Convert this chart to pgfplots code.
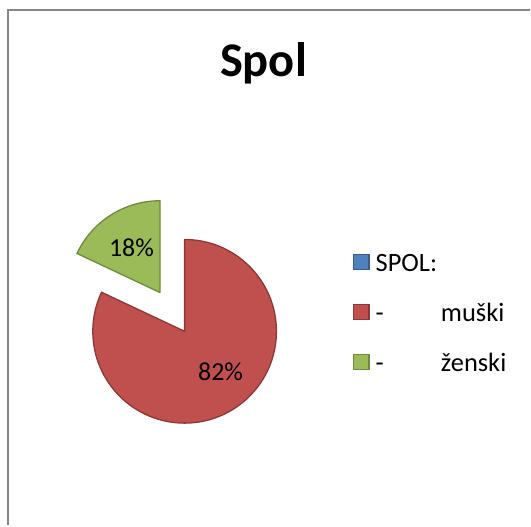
\documentclass[border=0pt]{standalone}
\usepackage{pgfplots}
\pgfplotsset{compat=1.18}
\usepackage{pgfplotstable}
\usepackage{fontspec}
\setmainfont{Carlito}
\definecolor{serBlue}{HTML}{4F81BD}
\definecolor{serBlueD}{HTML}{385D8A}
\definecolor{serRed}{HTML}{C0504D}
\definecolor{serRedD}{HTML}{8C3836}
\definecolor{serGreen}{HTML}{9BBB59}
\definecolor{serGreenD}{HTML}{71893F}
\definecolor{frameGray}{HTML}{878787}
\pgfplotstableread{
label value
muski 82
zenski 18
}\spoldata
\begin{document}
\begin{tikzpicture}
\pgfplotstablegetelem{0}{value}\of\spoldata \let\vRed\pgfplotsretval
\pgfplotstablegetelem{1}{value}\of\spoldata \let\vGreen\pgfplotsretval
\pgfmathsetmacro{\total}{\vRed+\vGreen}
\pgfmathsetmacro{\redEnd}{90-3.6*(\vRed/\total)*100}
\pgfmathsetmacro{\greenEnd}{90+3.6*(\vGreen/\total)*100}
\pgfmathsetmacro{\greenMid}{90+1.8*(\vGreen/\total)*100}
\begin{axis}[
  width=531bp, height=526bp, scale only axis,
  xmin=0, xmax=531, ymin=0, ymax=526, y dir=reverse,
  hide axis, clip=false,
  legend cell align=left,
  legend style={draw=none, fill=none, at={(axis cs:350.5,252)}, anchor=north west,
    font=\fontsize{26.5bp}{31bp}\selectfont,
    nodes={inner sep=0pt, text height=18bp, text depth=5bp},
    row sep=27bp, column sep=6bp},
]
\path (axis cs:0,0) rectangle (axis cs:531,526);
\draw[frameGray, line width=2.2bp] (axis cs:7.8,526) -- (axis cs:7.8,10.2) -- (axis cs:531,10.2);
% title
\node[anchor=base, font=\fontsize{48.5bp}{58bp}\selectfont\bfseries] at (axis cs:264,77) {Spol};
% pie slices from the table values
\filldraw[fill=serRed, draw=serRedD, line width=1.3bp, line join=round]
  (axis cs:185,332) -- ++(90:92bp) arc[start angle=90, end angle=\redEnd, radius=92bp] -- cycle;
\filldraw[fill=serGreen, draw=serGreenD, line width=1.3bp, line join=round]
  ([shift={(\greenMid:46bp)}]axis cs:185,332) -- ++(90:92bp) arc[start angle=90, end angle=\greenEnd, radius=92bp] -- cycle;
\node[anchor=base, font=\fontsize{26bp}{31bp}\selectfont] at (axis cs:131.7,257.5) {\vGreen\%};
\node[anchor=base, font=\fontsize{26bp}{31bp}\selectfont] at (axis cs:221,381.5) {\vRed\%};
% legend
\addlegendimage{legend image code/.code={\draw[fill=serBlue, draw=serBlueD, line width=1.2bp] (0bp,-4.5bp) rectangle (15.5bp,11bp);}}
\addlegendentry{SPOL:}
\addlegendimage{legend image code/.code={\draw[fill=serRed, draw=serRedD, line width=1.2bp] (0bp,-4.5bp) rectangle (15.5bp,11bp);}}
\addlegendentry{\makebox[65.5bp][l]{-}muški}
\addlegendimage{legend image code/.code={\draw[fill=serGreen, draw=serGreenD, line width=1.2bp] (0bp,-4.5bp) rectangle (15.5bp,11bp);}}
\addlegendentry{\makebox[65.5bp][l]{-}ženski}
\end{axis}
\end{tikzpicture}
\end{document}
